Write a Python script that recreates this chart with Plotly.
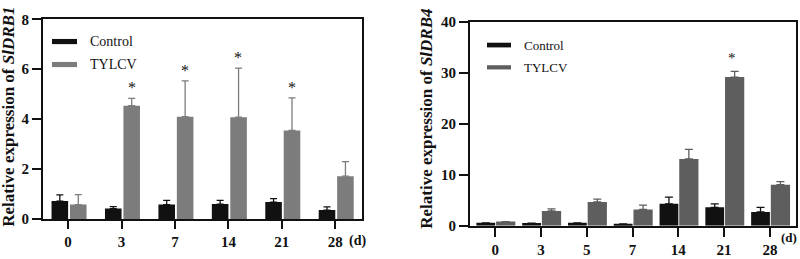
import plotly.graph_objects as go

# ---------------- data ----------------
days1 = ["0", "3", "7", "14", "21", "28"]
ctrl1 = [0.72, 0.42, 0.58, 0.60, 0.68, 0.36]
ctrl1_err = [0.25, 0.08, 0.17, 0.15, 0.14, 0.13]
tylcv1 = [0.58, 4.54, 4.10, 4.08, 3.55, 1.72]
tylcv1_err = [0.40, 0.29, 1.43, 1.96, 1.30, 0.58]
star1 = ["", "*", "*", "*", "*", ""]

days2 = ["0", "3", "5", "7", "14", "21", "28"]
ctrl2 = [0.55, 0.50, 0.55, 0.37, 4.3, 3.6, 2.7]
ctrl2_err = [0.0, 0.0, 0.0, 0.0, 1.3, 0.7, 0.9]
tylcv2 = [0.80, 2.9, 4.66, 3.2, 13.1, 29.2, 8.04]
tylcv2_err = [0.0, 0.4, 0.55, 0.85, 1.9, 1.1, 0.6]
star2 = ["", "", "", "", "", "*", ""]

FONT = "Times New Roman, Liberation Serif, serif"
BLACK = "#111111"
GRAY1 = "#7c7c7c"
GRAY2 = "#5e5e5e"

fig = go.Figure()

x1 = list(range(len(days1)))
x2 = list(range(len(days2)))

def err(vals, color, w):
    return dict(type="data", array=vals, arrayminus=[0] * len(vals), symmetric=False,
                color=color, thickness=1.3, width=w, visible=True)

fig.add_trace(go.Bar(x=x1, y=ctrl1, width=0.31, offset=-0.31, marker=dict(color=BLACK, line=dict(width=0)),
                     error_y=err(ctrl1_err, BLACK, 3.5), xaxis="x", yaxis="y", showlegend=False))
fig.add_trace(go.Bar(x=x1, y=tylcv1, width=0.31, offset=0.035, marker=dict(color=GRAY1, line=dict(width=0)),
                     error_y=err(tylcv1_err, GRAY1, 3.5), xaxis="x", yaxis="y", showlegend=False))
fig.add_trace(go.Bar(x=x2, y=ctrl2, width=0.41, offset=-0.41, marker=dict(color=BLACK, line=dict(width=0)),
                     error_y=err(ctrl2_err, BLACK, 4), xaxis="x2", yaxis="y2", showlegend=False))
fig.add_trace(go.Bar(x=x2, y=tylcv2, width=0.42, offset=0.02, marker=dict(color=GRAY2, line=dict(width=0)),
                     error_y=err(tylcv2_err, GRAY2, 4), xaxis="x2", yaxis="y2", showlegend=False))

tickfont = dict(family=FONT, size=15, color=BLACK, weight="bold")
common_ax = dict(showline=True, linecolor=BLACK, linewidth=2, mirror=True, showgrid=False,
                 zeroline=False, ticks="outside", tickcolor=BLACK, tickwidth=2, tickfont=tickfont)

W, H = 800, 259
def dx(px): return px / W
def dy(py): return (H - py) / H

fig.update_layout(
    width=W, height=H, margin=dict(l=0, r=0, t=0, b=0),
    paper_bgcolor="white", plot_bgcolor="white", barmode="overlay",
    font=dict(family=FONT),
    xaxis=dict(domain=[dx(43), dx(362)], range=[-0.47, 5.5], tickvals=x1, ticktext=days1,
               ticklen=8, **common_ax),
    yaxis=dict(domain=[dy(225), dy(12)], range=[0, 8], tickvals=[0, 2, 4, 6, 8],
               ticklen=9, anchor="x", **common_ax),
    xaxis2=dict(domain=[dx(470), dx(796)], range=[-0.55, 6.57], tickvals=x2, ticktext=days2,
                ticklen=9, anchor="y2", **common_ax),
    yaxis2=dict(domain=[dy(232), dy(15)], range=[0, 40], tickvals=[0, 10, 20, 30, 40],
                ticklen=9, anchor="x2", **common_ax),
)

def note(text, x, y, size, xanchor="center", **kw):
    return dict(text=text, xref="paper", yref="paper", x=x, y=y, showarrow=False,
                xanchor=xanchor, yanchor="middle", font=dict(family=FONT, size=size, color=BLACK), **kw)

ann = []
# axis titles
ann.append(note("<b>Relative expression of <i>SlDRB1</i></b>", dx(9), dy(116), 17, textangle=-90))
ann.append(note("<b>Relative expression of <i>SlDRB4</i></b>", dx(427), dy(118), 17, textangle=-90))
# (d) labels
ann.append(note("<b>(d)</b>", dx(357), dy(248), 14))
ann.append(note("<b>(d)</b>", dx(789), dy(245), 13))
# significance stars
for i, s in enumerate(star1):
    if s:
        ann.append(dict(text=s, x=x1[i], y=tylcv1[i] + tylcv1_err[i], xref="x", yref="y",
                        xshift=10, yshift=0, xanchor="center", yanchor="bottom", showarrow=False,
                        font=dict(family=FONT, size=16, color=BLACK)))
for i, s in enumerate(star2):
    if s:
        ann.append(dict(text=s, x=x2[i], y=tylcv2[i] + tylcv2_err[i], xref="x2", yref="y2",
                        xshift=8, yshift=3, xanchor="center", yanchor="bottom", showarrow=False,
                        font=dict(family=FONT, size=15, color=BLACK)))
# legends
ann.append(note("Control", dx(88), dy(36), 14, xanchor="left"))
ann.append(note("TYLCV", dx(88), dy(60), 14, xanchor="left"))
ann.append(note("Control", dx(522), dy(40), 13, xanchor="left"))
ann.append(note("TYLCV", dx(522), dy(63), 13, xanchor="left"))
fig.update_layout(annotations=ann)

shapes = [
    dict(type="rect", xref="paper", yref="paper", x0=dx(52), x1=dx(77), y0=dy(38.5), y1=dy(33),
         fillcolor=BLACK, line=dict(width=0)),
    dict(type="rect", xref="paper", yref="paper", x0=dx(52), x1=dx(77), y0=dy(63), y1=dy(57.5),
         fillcolor=GRAY1, line=dict(width=0)),
    dict(type="rect", xref="paper", yref="paper", x0=dx(487), x1=dx(511), y0=dy(42), y1=dy(37),
         fillcolor=BLACK, line=dict(width=0)),
    dict(type="rect", xref="paper", yref="paper", x0=dx(487), x1=dx(511), y0=dy(65.5), y1=dy(61),
         fillcolor=GRAY2, line=dict(width=0)),
]
fig.update_layout(shapes=shapes)

fig.write_html("out.html", config={"displayModeBar": False},
               post_script="document.body.style.margin='0';document.body.style.overflow='hidden';")
